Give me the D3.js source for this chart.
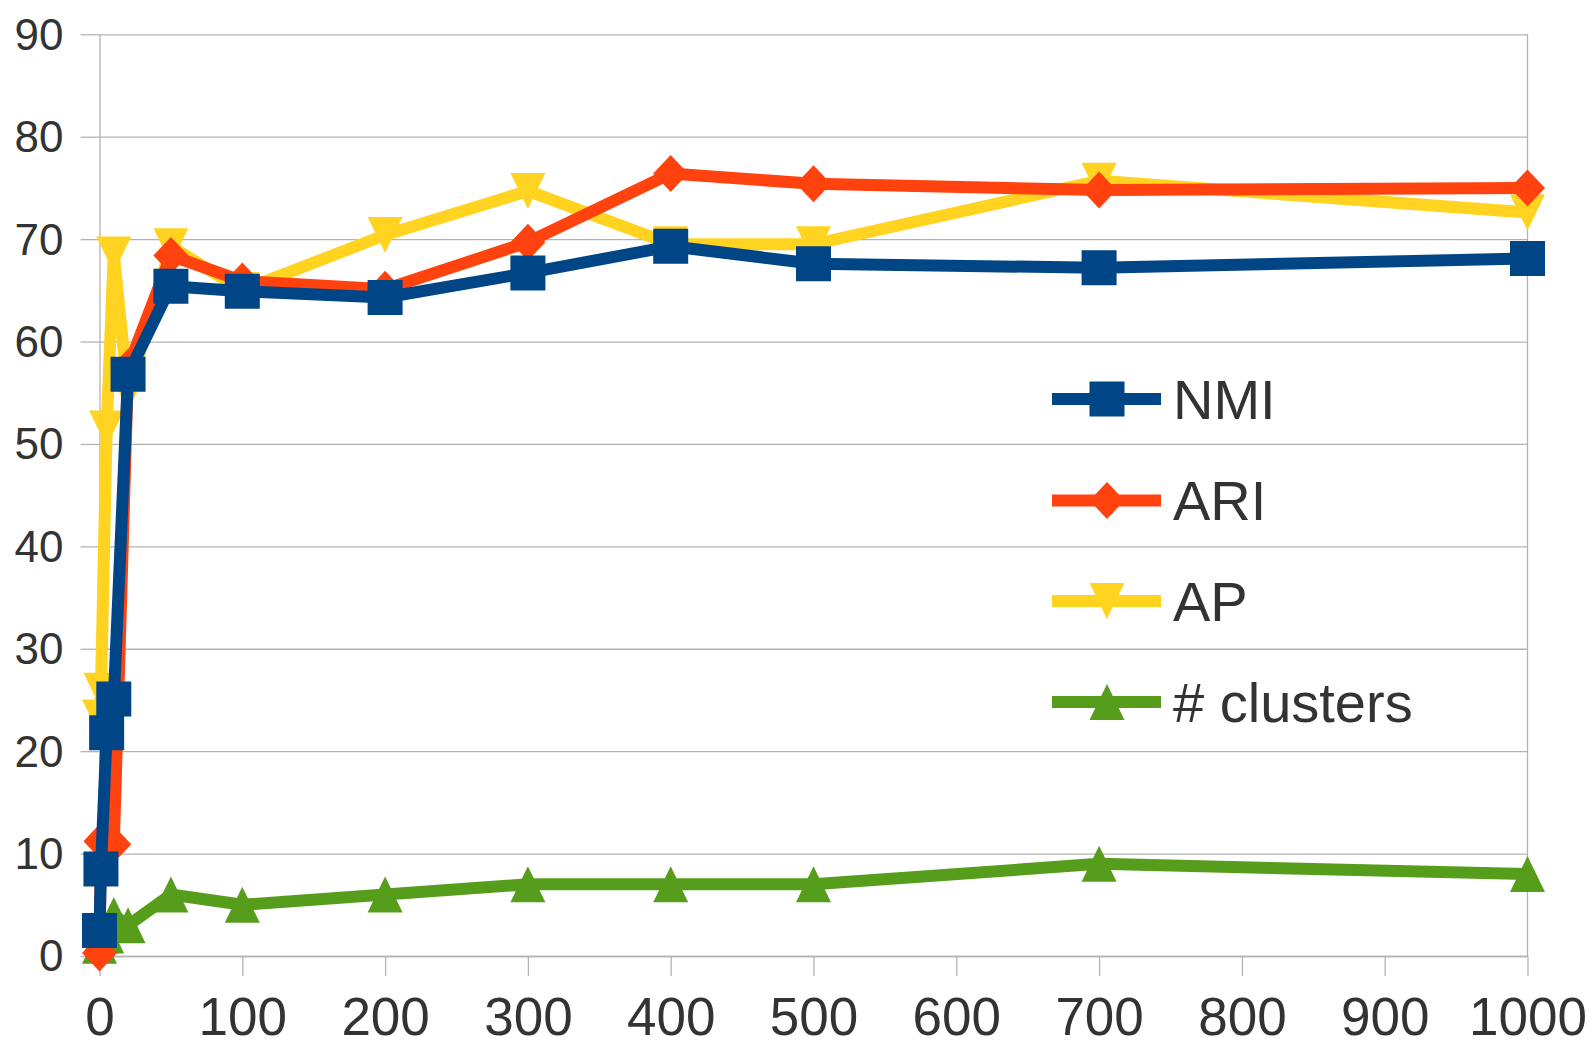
<!DOCTYPE html>
<html>
<head>
<meta charset="utf-8">
<script src="https://cdn.jsdelivr.net/npm/d3@7"></script>
<style>
  html, body { margin: 0; padding: 0; background: #fff; }
  svg { display: block; }
  text { font-family: "Liberation Sans", Arial, sans-serif; fill: #333; }
</style>
</head>
<body>
<svg id="chart" width="1595" height="1047"></svg>
<script>
// ---- data ----
const xValues  = [0, 1, 5, 10, 20, 50, 100, 200, 300, 400, 500, 700, 1000];
const nmi      = [2.5, 8.5, 21.8, 25.1, 56.8, 65.4, 64.9, 64.3, 66.7, 69.3, 67.6, 67.2, 68.1];
const ari      = [0.3, 11.2, 11.0, 10.9, 57.5, 68.4, 65.9, 65.1, 69.7, 76.4, 75.4, 74.8, 75.0];
const ap       = [23.3, 25.9, 51.5, 68.5, 55.0, 69.3, 65.0, 70.4, 74.7, 69.5, 69.5, 75.7, 72.6];
const clusters = [1, 2, 2, 4, 3, 6, 5, 6, 7, 7, 7, 9, 8];
const seriesNames = ["NMI", "ARI", "AP", "# clusters"];
const xTicks = [0, 100, 200, 300, 400, 500, 600, 700, 800, 900, 1000];
const yTicks = [0, 10, 20, 30, 40, 50, 60, 70, 80, 90];

// ---- styling ----
const colors = ["#004586", "#ff420e", "#ffd320", "#579d1c"];
const W = 1595, H = 1047;
const X0 = 99.5, X1 = 1527.5, Y0 = 956, Y1 = 34.3;
const grid = "#b3b3b3";

const svg = d3.select("#chart");
svg.append("rect").attr("width", W).attr("height", H).attr("fill", "#fff");

const x = d3.scaleLinear().domain([0, 1000]).range([X0, X1]);
const y = d3.scaleLinear().domain([0, 90]).range([Y0, Y1]);

// horizontal gridlines
const gridG = svg.append("g").attr("transform", `translate(${X0},0)`)
  .call(d3.axisLeft(y).tickValues(yTicks).tickSizeInner(-(X1 - X0)).tickSizeOuter(0).tickFormat(""));
gridG.selectAll("line").attr("stroke", grid).attr("stroke-width", 1.3);
gridG.select(".domain").remove();

// right border line at x=1000
svg.append("line").attr("x1", x(1000)).attr("x2", x(1000)).attr("y1", y(90)).attr("y2", y(0))
  .attr("stroke", grid).attr("stroke-width", 1.3);

// y axis
const yAxisG = svg.append("g").attr("transform", `translate(${X0},0)`)
  .call(d3.axisLeft(y).tickValues(yTicks).tickSizeInner(19).tickSizeOuter(0).tickPadding(17).tickFormat(d3.format("d")));
yAxisG.select(".domain").attr("stroke", grid).attr("stroke-width", 1.3);
yAxisG.selectAll("line").attr("stroke", grid).attr("stroke-width", 1.3);
yAxisG.selectAll("text")
  .style("font-size", "44px").attr("fill", "#333")
  .attr("dy", "0.34em");

// x axis
const xAxisG = svg.append("g").attr("transform", `translate(0,${Y0})`)
  .call(d3.axisBottom(x).tickValues(xTicks).tickSizeInner(20).tickSizeOuter(0).tickPadding(21).tickFormat(d3.format("d")));
xAxisG.select(".domain").attr("stroke", grid).attr("stroke-width", 1.6);
xAxisG.selectAll("line").attr("stroke", grid).attr("stroke-width", 1.3);
xAxisG.selectAll("text")
  .style("font-size", "53px").attr("fill", "#333");

// ---- marker shapes ----
const squareType = { draw(c, s) { const h = 17.5; c.rect(-h, -h, 2 * h, 2 * h); } };
const diamondType = { draw(c, s) { c.moveTo(0, -18.5); c.lineTo(17.5, 0); c.lineTo(0, 18.5); c.lineTo(-17.5, 0); c.closePath(); } };
const triDownType = { draw(c, s) { c.moveTo(-17.5, -18); c.lineTo(17.5, -18); c.lineTo(0, 18); c.closePath(); } };
const triUpType = { draw(c, s) { c.moveTo(-17.5, 18); c.lineTo(17.5, 18); c.lineTo(0, -18); c.closePath(); } };
const shapes = [squareType, diamondType, triDownType, triUpType];
const allSeries = [nmi, ari, ap, clusters];

const line = d3.line().x(d => x(d.x)).y(d => y(d.v));

// draw in reverse so NMI is on top
for (let i = allSeries.length - 1; i >= 0; i--) {
  const data = xValues.map((xv, j) => ({ x: xv, v: allSeries[i][j] }));
  const g = svg.append("g");
  g.append("path").datum(data).attr("d", line)
    .attr("fill", "none").attr("stroke", colors[i]).attr("stroke-width", 12)
    .attr("stroke-linejoin", "round").attr("stroke-linecap", "butt");
  g.selectAll("path.m").data(data).join("path").attr("class", "m")
    .attr("transform", d => `translate(${x(d.x)},${y(d.v)})`)
    .attr("d", d3.symbol().type(shapes[i]))
    .attr("fill", colors[i]);
}

// ---- legend ----
const legendRows = [399, 500.5, 601, 702];
const leg = svg.append("g");
seriesNames.forEach((name, i) => {
  const gy = legendRows[i];
  leg.append("line").attr("x1", 1052).attr("x2", 1161).attr("y1", gy).attr("y2", gy)
    .attr("stroke", colors[i]).attr("stroke-width", 12);
  leg.append("path").attr("transform", `translate(1107,${gy})`)
    .attr("d", d3.symbol().type(shapes[i])).attr("fill", colors[i]);
  leg.append("text").attr("x", 1173).attr("y", gy).attr("dy", "0.35em")
    .style("font-size", "56px").text(name);
});
</script>
</body>
</html>
